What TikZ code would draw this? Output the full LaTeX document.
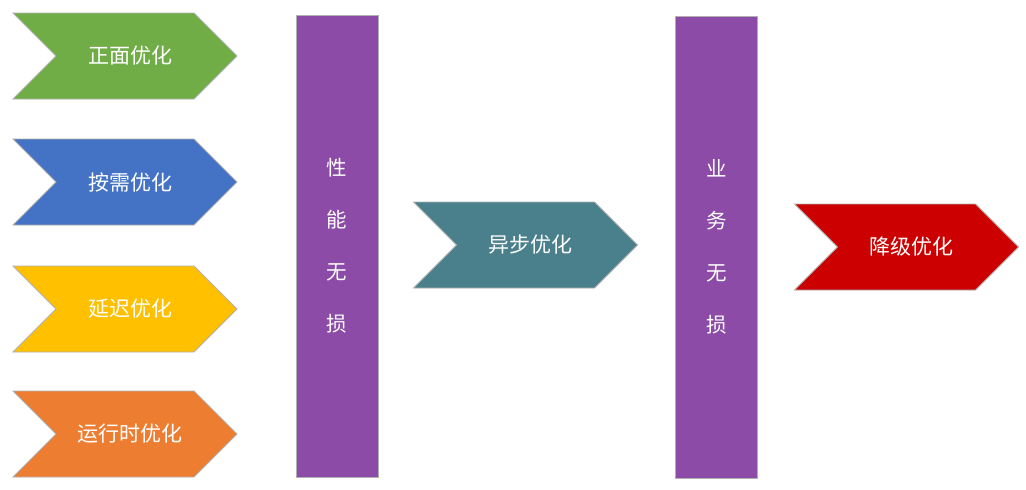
\documentclass[tikz,border=0pt]{standalone}
\usepackage{fontspec}
\newfontfamily\cjk{Noto Sans CJK SC}
\usetikzlibrary{shapes.symbols}
\definecolor{cgreen}{HTML}{70AD47}
\definecolor{cblue}{HTML}{4472C4}
\definecolor{cyellow}{HTML}{FFC000}
\definecolor{corange}{HTML}{ED7D31}
\definecolor{cpurple}{HTML}{8C4BA6}
\definecolor{cteal}{HTML}{4A7F8C}
\definecolor{cred}{HTML}{CC0000}
\definecolor{cedge}{HTML}{B0B0B0}
\tikzset{
  chev/.style={signal, signal from=west, signal to=east, signal pointer angle=90,
    minimum width=224pt, minimum height=86pt, inner sep=0pt, draw=cedge, line width=0.8pt,
    text=white, font=\cjk\fontsize{21pt}{24pt}\selectfont},
  bar/.style={rectangle, draw=cedge, line width=0.8pt, fill=cpurple, minimum width=82pt,
    minimum height=462pt, inner sep=0pt, text=white, align=center,
    font=\cjk\fontsize{20.5pt}{52pt}\selectfont}
}
\begin{document}
\begin{tikzpicture}[x=1pt,y=-1pt]
\useasboundingbox[fill=white] (0,0) rectangle (1026,490);
\node[chev, fill=cgreen]  (a) at (125,56)  {\hspace*{10pt}正面优化};
\node[chev, fill=cblue]   (b) at (125,182) {\hspace*{10pt}按需优化};
\node[chev, fill=cyellow] (c) at (125,309) {\hspace*{10pt}延迟优化};
\node[chev, fill=corange] (d) at (125,434) {\hspace*{10pt}运行时优化};
\node[bar] (p) at (337,246) {性\\能\\无\\损};
\node[chev, fill=cteal] (e) at (525.5,245) {\hspace*{10pt}异步优化};
\node[bar] (q) at (716.5,247) {业\\务\\无\\损};
\node[chev, fill=cred] (f) at (906.5,247) {\hspace*{10pt}降级优化};
\end{tikzpicture}
\end{document}
